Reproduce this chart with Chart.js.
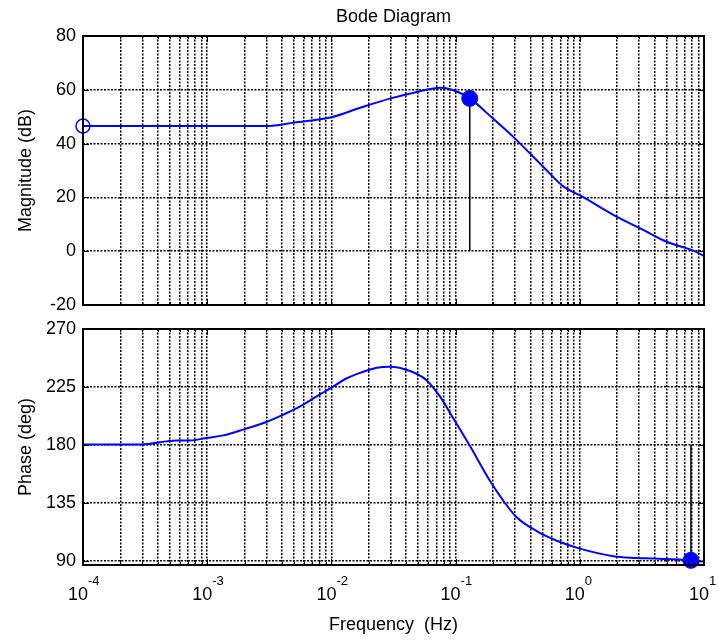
<!DOCTYPE html>
<html><head><meta charset="utf-8">
<script src="https://cdn.jsdelivr.net/npm/chart.js@4.4.1/dist/chart.umd.min.js"></script>
<style>
html,body{margin:0;padding:0;background:#fff;}
#wrap{position:relative;width:719px;height:640px;overflow:hidden;}
.c{position:absolute;left:0;width:719px;height:320px;}
</style></head><body>
<div id="wrap">
<div class="c" style="top:0"><canvas id="mag"></canvas></div>
<div class="c" style="top:320px"><canvas id="ph"></canvas></div>
</div>
<script>
// ---- data ----
const chartTitle = 'Bode Diagram';
const magFreq = [1e-4, 1e-3, 3e-3, 5e-3, 1e-2, 1.7e-2, 3e-2, 5e-2, 7.5e-2, 9.5e-2, 0.13, 0.2, 0.29, 0.5, 0.74, 1.0, 1.86, 3.24, 5.0, 8.2, 10];
const magDb   = [46.5, 46.5, 46.5, 47.8, 49.8, 53.3, 56.8, 59.3, 60.8, 59.9, 56.8, 49.3, 42.6, 31.7, 24.0, 20.8, 13.5, 7.9, 3.5, 0.2, -1.8];
const phFreq = [1e-4, 2.9e-4, 5.7e-4, 7.2e-4, 1e-3, 1.35e-3, 1.95e-3, 3e-3, 4.1e-3, 5.6e-3, 7.6e-3, 9.8e-3, 1.33e-2, 1.7e-2, 2.32e-2, 2.96e-2, 4.3e-2, 5.8e-2, 7.48e-2, 9.55e-2, 0.1306, 0.189, 0.242, 0.31, 0.45, 0.693, 1.0, 1.86, 2.8, 4.0, 7.6, 10];
const phDeg  = [180.5, 180.5, 183.6, 183.6, 185.6, 187.5, 192, 197.9, 203.6, 210, 217.7, 224, 231.8, 236, 240, 240.8, 237.4, 230.5, 217.7, 201, 179.2, 152.3, 136.9, 124, 113.3, 104.8, 99.7, 93.8, 92.5, 92, 90.8, 89.5];
const magStartMarker = [1e-4, 46.5];     // open circle
const magMarker = [0.13, 56.8];          // filled marker
const magStem = [0, 56.8];               // stem y-range at magMarker freq
const phMarker = [7.85, 90.6];           // filled marker
const phStem = [180, 90.6];              // stem y-range at phMarker freq
const decades = [1e-4, 1e-3, 1e-2, 1e-1, 1, 10];
const decadeBase = '10';
const decadeExp = ['-4', '-3', '-2', '-1', '0', '1'];
const minorMult = [2, 3, 4, 5, 6, 7, 8, 9];
const magTicks = [-20, 0, 20, 40, 60, 80];
const phTicks = [90, 135, 180, 225, 270];

// ---- helpers ----
const FONT = 'Liberation Sans, Arial, Helvetica, sans-serif';
Chart.defaults.font.family = FONT;
Chart.defaults.font.size = 18;
Chart.defaults.color = '#000';
const LABEL_SHIFT = -5;

const xTickValues = [];
decades.forEach((d, i) => {
  xTickValues.push(d);
  if (i < decades.length - 1) minorMult.forEach(m => xTickValues.push(d * m));
});
function decadeIndex(v) {
  for (let i = 0; i < decades.length; i++) if (Math.abs(v / decades[i] - 1) < 1e-6) return i;
  return -1;
}
const pts = (xs, ys) => xs.map((x, i) => ({x, y: ys[i]}));

const boxPlugin = {
  id: 'box',
  afterDraw(chart) {
    const {ctx, chartArea: a, scales} = chart;
    ctx.save();
    ctx.strokeStyle = '#000';
    ctx.lineWidth = 1;
    ctx.beginPath();
    scales.x.ticks.forEach(t => {
      const px = Math.round(scales.x.getPixelForValue(t.value)) + 0.5;
      const len = decadeIndex(t.value) >= 0 ? 6 : 3;
      ctx.moveTo(px, a.top); ctx.lineTo(px, a.top + len);
      ctx.moveTo(px, a.bottom); ctx.lineTo(px, a.bottom - len);
    });
    scales.y.ticks.forEach(t => {
      const py = Math.round(scales.y.getPixelForValue(t.value)) + 0.5;
      ctx.moveTo(a.left, py); ctx.lineTo(a.left + 6, py);
      ctx.moveTo(a.right, py); ctx.lineTo(a.right - 6, py);
    });
    ctx.stroke();
    ctx.lineWidth = 2;
    ctx.strokeRect(a.left, a.top, a.width, a.height);
    ctx.restore();
  }
};
const textPlugin = {
  id: 'bodeText',
  afterDraw(chart, args, opts) {
    const {ctx, chartArea: a, scales} = chart;
    ctx.save();
    ctx.fillStyle = '#000';
    if (opts.title) {
      ctx.font = '18px ' + FONT;
      ctx.textAlign = 'center';
      ctx.textBaseline = 'alphabetic';
      ctx.fillText(opts.title, (a.left + a.right) / 2, 22);
    }
    if (opts.exponents) {
      ctx.font = '18px ' + FONT;
      const half = ctx.measureText(decadeBase).width / 2;
      ctx.font = '13px ' + FONT;
      ctx.textAlign = 'left';
      ctx.textBaseline = 'alphabetic';
      decades.forEach((d, i) => {
        const px = scales.x.getPixelForValue(d) + LABEL_SHIFT + half;
        ctx.fillText(decadeExp[i], px, a.bottom + 20);
      });
    }
    ctx.restore();
  }
};

function makeOptions(cfg) {
  return {
    responsive: true,
    maintainAspectRatio: false,
    animation: false,
    events: [],
    layout: {padding: {top: cfg.padTop, right: 15, left: 0, bottom: 0}},
    plugins: {
      legend: {display: false},
      tooltip: {enabled: false},
      bodeText: {title: cfg.title || '', exponents: cfg.showX}
    },
    scales: {
      x: {
        type: 'logarithmic',
        min: 1e-4, max: 10,
        afterBuildTicks: s => { s.ticks = xTickValues.map(v => ({value: v})); },
        afterFit: s => { s.height = cfg.xHeight; s.paddingLeft = 0; s.paddingRight = 0; },
        ticks: {
          display: cfg.showX, autoSkip: false, maxRotation: 0, minRotation: 0,
          padding: 19, labelOffset: LABEL_SHIFT, color: '#000', font: {size: 18},
          callback: v => (decadeIndex(v) >= 0 ? decadeBase : '')
        },
        grid: {color: '#000', lineWidth: 1.5, drawTicks: false},
        border: {display: false, dash: [2, 1.5]},
        title: {display: cfg.showX, text: 'Frequency  (Hz)', font: {size: 18}, color: '#000', padding: {top: 0, bottom: 4}}
      },
      y: {
        type: 'linear',
        min: cfg.yMin, max: cfg.yMax,
        afterBuildTicks: s => { s.ticks = cfg.yTicks.map(v => ({value: v})); },
        afterFit: s => { s.width = 83; s.paddingTop = 0; s.paddingBottom = 0; },
        ticks: {padding: 7, color: '#000', font: {size: 18}},
        grid: {color: '#000', lineWidth: 1.5, drawTicks: false},
        border: {display: false, dash: [2, 1.5]},
        title: {display: true, text: cfg.yTitle, font: {size: 18}, color: '#000', padding: {top: 15, bottom: 0}}
      }
    }
  };
}

const BLUE = '#0000ff';

new Chart(document.getElementById('mag'), {
  type: 'scatter',
  data: {
    datasets: [
      {data: pts([magMarker[0]], [magMarker[1]]), pointRadius: 8, pointBackgroundColor: BLUE, pointBorderColor: BLUE, showLine: false, clip: false},
      {data: pts([magStartMarker[0]], [magStartMarker[1]]), pointRadius: 7, pointBackgroundColor: 'rgba(0,0,0,0)', pointBorderColor: BLUE, pointBorderWidth: 1.5, showLine: false, clip: false},
      {data: pts(magFreq, magDb), showLine: true, borderColor: BLUE, borderWidth: 2, pointRadius: 0, fill: false, cubicInterpolationMode: 'monotone'},
      {data: pts([magMarker[0], magMarker[0]], magStem), showLine: true, borderColor: '#000', borderWidth: 1.5, pointRadius: 0, fill: false}
    ]
  },
  options: makeOptions({padTop: 36, xHeight: 15, showX: false, yMin: -20, yMax: 80, yTicks: magTicks, yTitle: 'Magnitude (dB)', title: chartTitle}),
  plugins: [boxPlugin, textPlugin]
});

new Chart(document.getElementById('ph'), {
  type: 'scatter',
  data: {
    datasets: [
      {data: pts([phMarker[0]], [phMarker[1]]), pointRadius: 8, pointBackgroundColor: BLUE, pointBorderColor: BLUE, showLine: false, clip: false},
      {data: pts(phFreq, phDeg), showLine: true, borderColor: BLUE, borderWidth: 2, pointRadius: 0, fill: false, cubicInterpolationMode: 'monotone'},
      {data: pts([phMarker[0], phMarker[0]], phStem), showLine: true, borderColor: '#000', borderWidth: 1.5, pointRadius: 0, fill: false}
    ]
  },
  options: makeOptions({padTop: 7, xHeight: 75, showX: true, yMin: 87, yMax: 270, yTicks: phTicks, yTitle: 'Phase (deg)'}),
  plugins: [boxPlugin, textPlugin]
});
</script>
</body></html>
